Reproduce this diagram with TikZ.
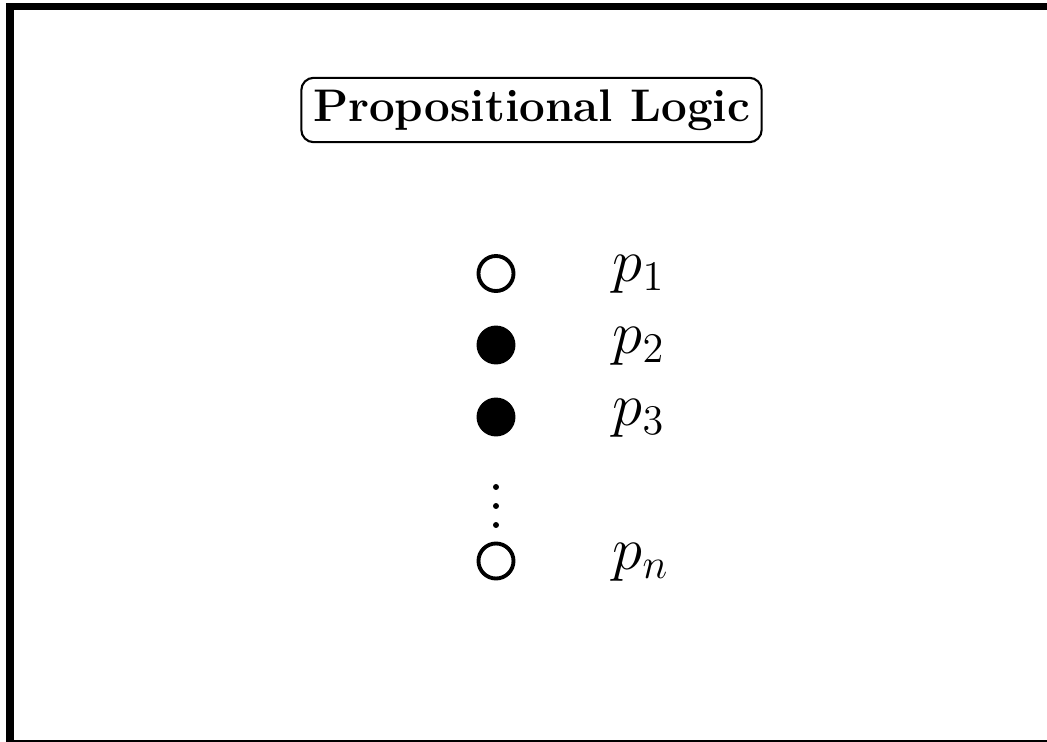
\documentclass[tikz,border=0pt]{standalone}
\usepackage{amsmath}
\usetikzlibrary{positioning}
\tikzset{
  valoff/.style={circle, draw, line width=1.1pt, minimum size=0.35cm, inner sep=0pt},
  valon/.style={valoff, fill=black},
  atomlabel/.style={anchor=base west, inner sep=0pt, font=\fontsize{17.28}{20}\selectfont},
}
\begin{document}
\begin{tikzpicture}[x=0.01cm, y=-0.01cm]
  \useasboundingbox (0,0) rectangle (1047,742);
  % one row of the valuation: circle at height #2, atom p_#4 beside it
  \newcommand{\valrow}[4]{%
    \node[#3] (c#1) at (496,#2) {};
    \node[atomlabel] (p#1) at (612,#2+8) {$p_{#4}$};
  }
  % ------------------------------------------------------------------ frame
  \draw[line width=2pt] (6,6.5) -- (1047,6.5);
  \draw[line width=2.3pt] (10,3) -- (10,742);
  \draw[line width=0.6pt] (6,741) -- (1047,741);
  % ------------------------------------------------------------------ title
  \node[draw, rounded corners=3.5pt, line width=0.6pt, minimum width=4.59cm,
        minimum height=0.62cm, font=\fontsize{13}{16}\selectfont\bfseries]
        (title) at (531.5,110) {Propositional Logic};
  % ------------------------------------------------------------------ the atoms
  \valrow{1}{273.5}{valoff}{1}
  \valrow{2}{345}{valon}{2}
  \valrow{3}{417}{valon}{3}
  \valrow{n}{561}{valoff}{n}
  % vertical dots between p_3 and p_n
  \foreach \y in {487,506,525}
    \fill (496,\y) circle (0.85pt);
\end{tikzpicture}
\end{document}
